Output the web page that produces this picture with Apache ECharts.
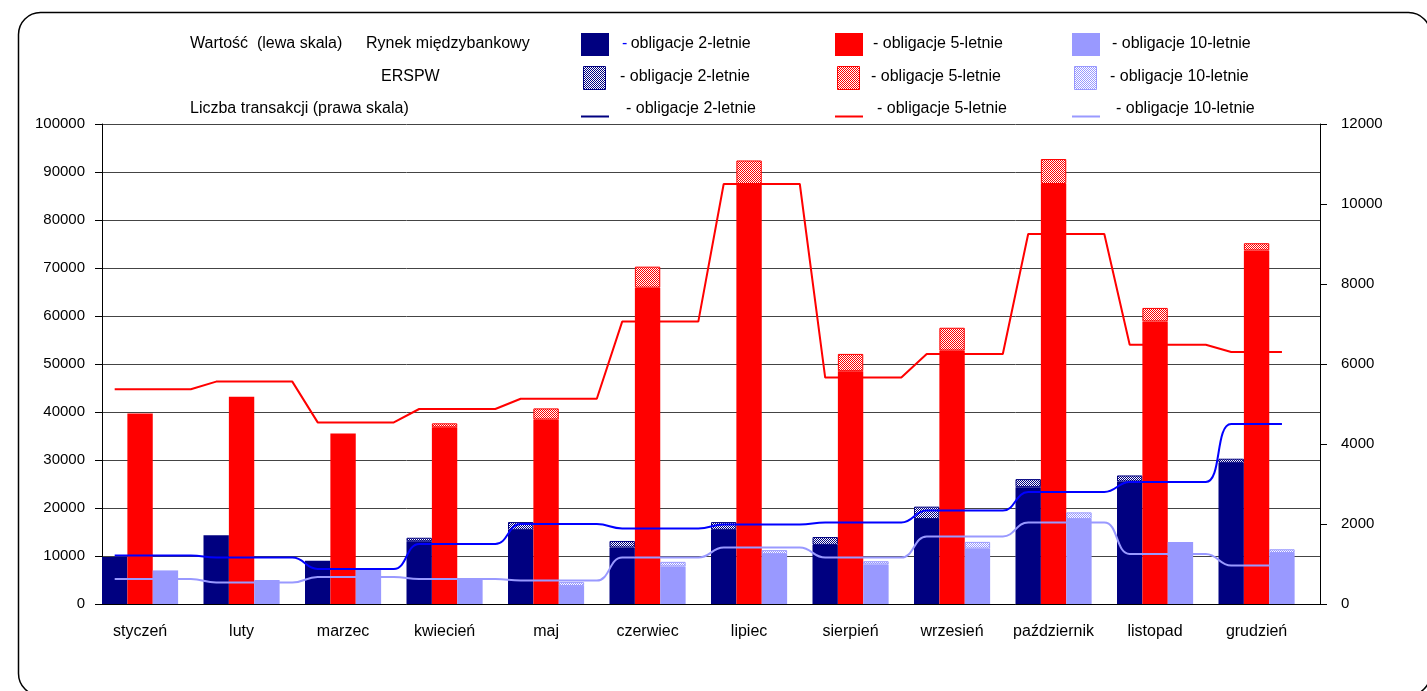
<!DOCTYPE html>
<html>
<head>
<meta charset="utf-8">
<script src="https://cdn.jsdelivr.net/npm/echarts@6/dist/echarts.min.js"></script>
<style>
  html, body { margin: 0; padding: 0; background: #fff; }
  #chart { width: 1427px; height: 691px; }
</style>
</head>
<body>
<div id="chart"></div>
<script>
// Miesiące
const months = ['styczeń', 'luty', 'marzec', 'kwiecień', 'maj', 'czerwiec', 'lipiec', 'sierpień', 'wrzesień', 'październik', 'listopad', 'grudzień'];

// Wartość obrotów (lewa skala) – rynek międzybankowy
const interbank2 = [9800, 14300, 9000, 13060, 15440, 11770, 15440, 12310, 17690, 24340, 25520, 29400];
const interbank5 = [39700, 43200, 35500, 36800, 38430, 65900, 87400, 48500, 52800, 87500, 58880, 73660];
const interbank10 = [7000, 5000, 7400, 5300, 3740, 7820, 10400, 8230, 11540, 17690, 12900, 10610];

// Wartość obrotów (lewa skala) – ERSPW
const erspw2 = [0, 0, 0, 740, 1630, 1360, 1630, 1640, 2590, 1680, 1260, 870];
const erspw5 = [0, 0, 0, 840, 2320, 4380, 5000, 3600, 4750, 5200, 2800, 1500];
const erspw10 = [0, 0, 0, 0, 820, 960, 820, 680, 1400, 1400, 0, 790];

// Liczba transakcji (prawa skala)
const count2 = [1210, 1160, 875, 1500, 2000, 1890, 1985, 2035, 2335, 2800, 3050, 4500];
const count5 = [5370, 5560, 4540, 4875, 5130, 7060, 10500, 5660, 6250, 9250, 6480, 6300];
const count10 = [625, 535, 675, 625, 585, 1160, 1410, 1160, 1690, 2040, 1250, 960];

// Skale osi
const leftMax = 100000, leftStep = 10000;
const rightMax = 12000, rightStep = 2000;

const NAVY = '#000080', RED = '#ff0000', LAVENDER = '#9999ff', BLUE = '#0000ff';
const FONT = "'Liberation Sans', Arial, sans-serif";

// Każdy miesiąc to cztery pola osi: 2-letnie, 5-letnie, 10-letnie i odstęp
const SLOTS = 4;
const slotLabels = [];
months.forEach(m => { slotLabels.push('', m, '', ''); });

function barSlots(values, slot) {
  const out = new Array(months.length * SLOTS).fill('-');
  values.forEach((v, i) => { if (v) out[i * SLOTS + slot] = v; });
  return out;
}
function lineSlots(values) {
  const out = [];
  values.forEach(v => { for (let k = 0; k < SLOTS; k++) out.push(v); });
  out[out.length - 1] = null;
  return out;
}

// Kropkowany wzór dla segmentów ERSPW
function dotted(color) {
  const c = document.createElement('canvas');
  c.width = 2; c.height = 2;
  const g = c.getContext('2d');
  g.fillStyle = '#ffffff'; g.fillRect(0, 0, 2, 2);
  g.fillStyle = color; g.fillRect(0, 0, 1, 1); g.fillRect(1, 1, 1, 1);
  return { image: c, repeat: 'repeat' };
}

function solidBar(name, values, slot, color) {
  return {
    name, type: 'bar', stack: 'obroty', barCategoryGap: '0%',
    data: barSlots(values, slot),
    itemStyle: { color },
    emphasis: { disabled: true }
  };
}
function dottedBar(name, values, slot, color) {
  return {
    name, type: 'bar', stack: 'obroty', barCategoryGap: '0%',
    data: barSlots(values, slot),
    itemStyle: { color: dotted(color), borderColor: color, borderWidth: 1 },
    emphasis: { disabled: true }
  };
}
function countLine(name, values, color, smooth) {
  return {
    name, type: 'line', yAxisIndex: 1, data: lineSlots(values),
    symbol: 'none', smooth, connectNulls: false, z: 5,
    lineStyle: { color, width: 2 },
    emphasis: { disabled: true }
  };
}

// Opis serii nad wykresem
const rowY = [44, 77, 109];
const colSwatch = [581, 835, 1072];
const colText = [622, 873, 1112];
const colColor = [NAVY, RED, LAVENDER];
const colNames = ['- obligacje 2-letnie', '- obligacje 5-letnie', '- obligacje 10-letnie'];

const legendItems = [];
const txt = (x, y, text, extra) => Object.assign({
  type: 'text', x, y, silent: true,
  style: { text, fill: '#000', font: '16px ' + FONT, textVerticalAlign: 'middle' }
}, extra || {});

legendItems.push(txt(190, rowY[0], 'Wartość  (lewa skala)'));
legendItems.push(txt(366, rowY[0], 'Rynek międzybankowy'));
legendItems.push(txt(381, rowY[1], 'ERSPW'));
legendItems.push(txt(190, rowY[2], 'Liczba transakcji (prawa skala)'));

for (let c = 0; c < 3; c++) {
  legendItems.push({ type: 'rect', silent: true, shape: { x: colSwatch[c], y: rowY[0] - 11, width: 28, height: 23 }, style: { fill: colColor[c] } });
  legendItems.push({ type: 'rect', silent: true, shape: { x: colSwatch[c] + 2.5, y: rowY[1] - 10.5, width: 22, height: 23 }, style: { fill: dotted(colColor[c]), stroke: colColor[c], lineWidth: 1 } });
  legendItems.push({ type: 'line', silent: true, shape: { x1: colSwatch[c], y1: rowY[2] + 7.5, x2: colSwatch[c] + 28, y2: rowY[2] + 7.5 }, style: { stroke: colColor[c], lineWidth: 2 } });
  if (c === 0) {
    legendItems.push({
      type: 'text', x: colText[c], y: rowY[0], silent: true,
      style: {
        text: '{d|-} {t|obligacje 2-letnie}',
        textVerticalAlign: 'middle',
        rich: {
          d: { fill: BLUE, font: '16px ' + FONT },
          t: { fill: '#000', font: '16px ' + FONT }
        }
      }
    });
  } else {
    legendItems.push(txt(colText[c], rowY[0], colNames[c]));
  }
  legendItems.push(txt(colText[c] - 2, rowY[1], colNames[c]));
  legendItems.push(txt(colText[c] + 4, rowY[2], colNames[c]));
}

const plain = v => String(v);

const chart = echarts.init(document.getElementById('chart'), null, { renderer: 'canvas' });
chart.setOption({
  backgroundColor: '#ffffff',
  animation: false,
  textStyle: { fontFamily: FONT },
  grid: { left: 102, right: 107, top: 124, bottom: 87, containLabel: false },
  xAxis: {
    type: 'category',
    data: slotLabels,
    boundaryGap: true,
    axisLine: { lineStyle: { color: '#000', width: 1 } },
    axisTick: { interval: 0, length: 8, lineStyle: { color: '#000' } },
    axisLabel: { interval: 0, color: '#000', fontSize: 16, margin: 20, fontFamily: FONT },
    splitLine: { show: false }
  },
  yAxis: [
    {
      type: 'value', min: 0, max: leftMax, interval: leftStep,
      axisLine: { show: true, lineStyle: { color: '#000' } },
      axisTick: { show: true, length: 7, lineStyle: { color: '#000' } },
      axisLabel: { color: '#000', fontSize: 15, margin: 17, fontFamily: FONT, formatter: plain },
      splitLine: { show: true, lineStyle: { color: '#444', width: 1 } }
    },
    {
      type: 'value', min: 0, max: rightMax, interval: rightStep, position: 'right',
      axisLine: { show: true, lineStyle: { color: '#000' } },
      axisTick: { show: true, length: 7, lineStyle: { color: '#000' } },
      axisLabel: { color: '#000', fontSize: 15, margin: 21, fontFamily: FONT, formatter: plain },
      splitLine: { show: false }
    }
  ],
  series: [
    solidBar('Rynek międzybankowy - obligacje 2-letnie', interbank2, 0, NAVY),
    dottedBar('ERSPW - obligacje 2-letnie', erspw2, 0, NAVY),
    solidBar('Rynek międzybankowy - obligacje 5-letnie', interbank5, 1, RED),
    dottedBar('ERSPW - obligacje 5-letnie', erspw5, 1, RED),
    solidBar('Rynek międzybankowy - obligacje 10-letnie', interbank10, 2, LAVENDER),
    dottedBar('ERSPW - obligacje 10-letnie', erspw10, 2, LAVENDER),
    countLine('Liczba transakcji - obligacje 2-letnie', count2, BLUE, 0.45),
    countLine('Liczba transakcji - obligacje 5-letnie', count5, RED, false),
    countLine('Liczba transakcji - obligacje 10-letnie', count10, LAVENDER, 0.45)
  ],
  graphic: [
    {
      type: 'rect', silent: true, z: -10,
      shape: { x: 18.5, y: 12.5, width: 1412, height: 683, r: 22 },
      style: { fill: 'none', stroke: '#000', lineWidth: 1.5 }
    }
  ].concat(legendItems)
});
</script>
</body>
</html>
